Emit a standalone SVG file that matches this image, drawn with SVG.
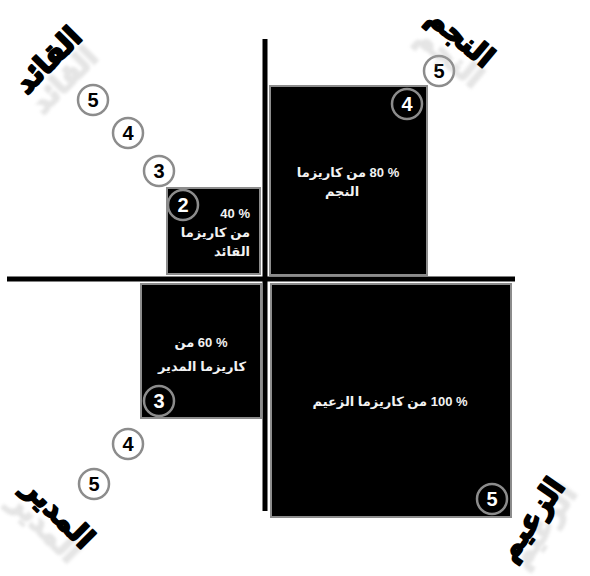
<svg xmlns="http://www.w3.org/2000/svg" width="590" height="576" viewBox="0 0 590 576">
<defs>
<style>
.box{fill:#000;stroke:#8c8c8c;stroke-width:2}
.axis{stroke:#000;stroke-width:5;stroke-linecap:butt}
.c{fill:#fff;stroke:#8c8c8c;stroke-width:2.5}
.ci{fill:#000;stroke:#8c8c8c;stroke-width:2.5}
.n{font-family:"Liberation Sans","DejaVu Sans",sans-serif;font-weight:bold;font-size:20px;text-anchor:middle;fill:#000}
.ni{font-family:"Liberation Sans","DejaVu Sans",sans-serif;font-weight:bold;font-size:20px;text-anchor:middle;fill:#fff}
.t{font-family:"Liberation Sans","DejaVu Sans",sans-serif;font-weight:bold;font-size:13px;fill:#f2f2f2;direction:rtl;unicode-bidi:embed}
.big{font-family:"DejaVu Sans","Liberation Sans",sans-serif;font-weight:bold;font-size:29px;text-anchor:middle;fill:#000;stroke:#000;stroke-width:2;stroke-linejoin:round;direction:rtl}
.sh{font-family:"DejaVu Sans","Liberation Sans",sans-serif;font-weight:bold;font-size:29px;text-anchor:middle;fill:#aaa;stroke:#aaa;stroke-width:2;opacity:0.3;direction:rtl}
</style>
<filter id="blur" x="-20%" y="-20%" width="140%" height="140%"><feGaussianBlur stdDeviation="1.5"/></filter>
</defs>
<rect width="590" height="576" fill="#fff"/>

<g id="axes">
<line class="axis" x1="7" y1="279" x2="515" y2="279"/>
<line class="axis" x1="265" y1="39" x2="265" y2="511"/>
</g>

<g id="leader-box">
<rect class="box" x="167" y="188" width="93" height="86"/>
<text class="t" x="250" y="218" text-anchor="start">% 40</text>
<text class="t" x="250" y="237" text-anchor="start">من كاريزما</text>
<text class="t" x="250" y="256" text-anchor="start">القائد</text>
<circle class="ci" cx="183" cy="205" r="15"/>
<text class="ni" x="183" y="212">2</text>
</g>

<g id="star-box">
<rect class="box" x="270" y="86" width="157" height="189"/>
<text class="t" x="348" y="177" text-anchor="middle">% 80 من كاريزما</text>
<text class="t" x="342" y="196" text-anchor="middle">النجم</text>
<circle class="ci" cx="407" cy="104" r="15"/>
<text class="ni" x="407" y="111">4</text>
</g>

<g id="manager-box">
<rect class="box" x="141" y="284" width="120" height="134"/>
<text class="t" x="201" y="347" text-anchor="middle">% 60 من</text>
<text class="t" x="202" y="371" text-anchor="middle">كاريزما المدير</text>
<circle class="ci" cx="159" cy="401" r="15"/>
<text class="ni" x="159" y="408">3</text>
</g>

<g id="chief-box">
<rect class="box" x="271" y="284" width="240" height="233"/>
<text class="t" x="390" y="406" text-anchor="middle">% 100 من كاريزما الزعيم</text>
<circle class="ci" cx="492" cy="499" r="15"/>
<text class="ni" x="492" y="506">5</text>
</g>

<g id="leader-steps">
<circle class="c" cx="93" cy="100" r="15"/><text class="n" x="93" y="107">5</text>
<circle class="c" cx="128" cy="133" r="15"/><text class="n" x="128" y="140">4</text>
<circle class="c" cx="159" cy="171" r="15"/><text class="n" x="159" y="178">3</text>
</g>

<g id="star-steps">
<circle class="c" cx="439" cy="71" r="15"/><text class="n" x="439" y="78">5</text>
</g>

<g id="manager-steps">
<circle class="c" cx="128" cy="444" r="15"/><text class="n" x="128" y="451">4</text>
<circle class="c" cx="94" cy="484" r="15"/><text class="n" x="94" y="491">5</text>
</g>

<g id="label-leader">
<text class="sh" filter="url(#blur)" transform="translate(64,80) rotate(-45)" y="10">القائد</text>
<text class="big" transform="translate(48,60) rotate(-45)" y="10">القائد</text>
</g>
<g id="label-star">
<text class="sh" filter="url(#blur)" transform="translate(450,57) rotate(40)" y="10">النجم</text>
<text class="big" transform="translate(461,37) rotate(40)" y="10">النجم</text>
</g>
<g id="label-manager">
<text class="sh" filter="url(#blur)" transform="translate(45,527) rotate(45)" y="10">المدير</text>
<text class="big" transform="translate(59,513) rotate(45)" y="10">المدير</text>
</g>
<g id="label-chief">
<text class="sh" filter="url(#blur)" transform="translate(543,526) rotate(-55)" y="10">الزعيم</text>
<text class="big" transform="translate(531,519) rotate(-55)" y="10">الزعيم</text>
</g>
</svg>
